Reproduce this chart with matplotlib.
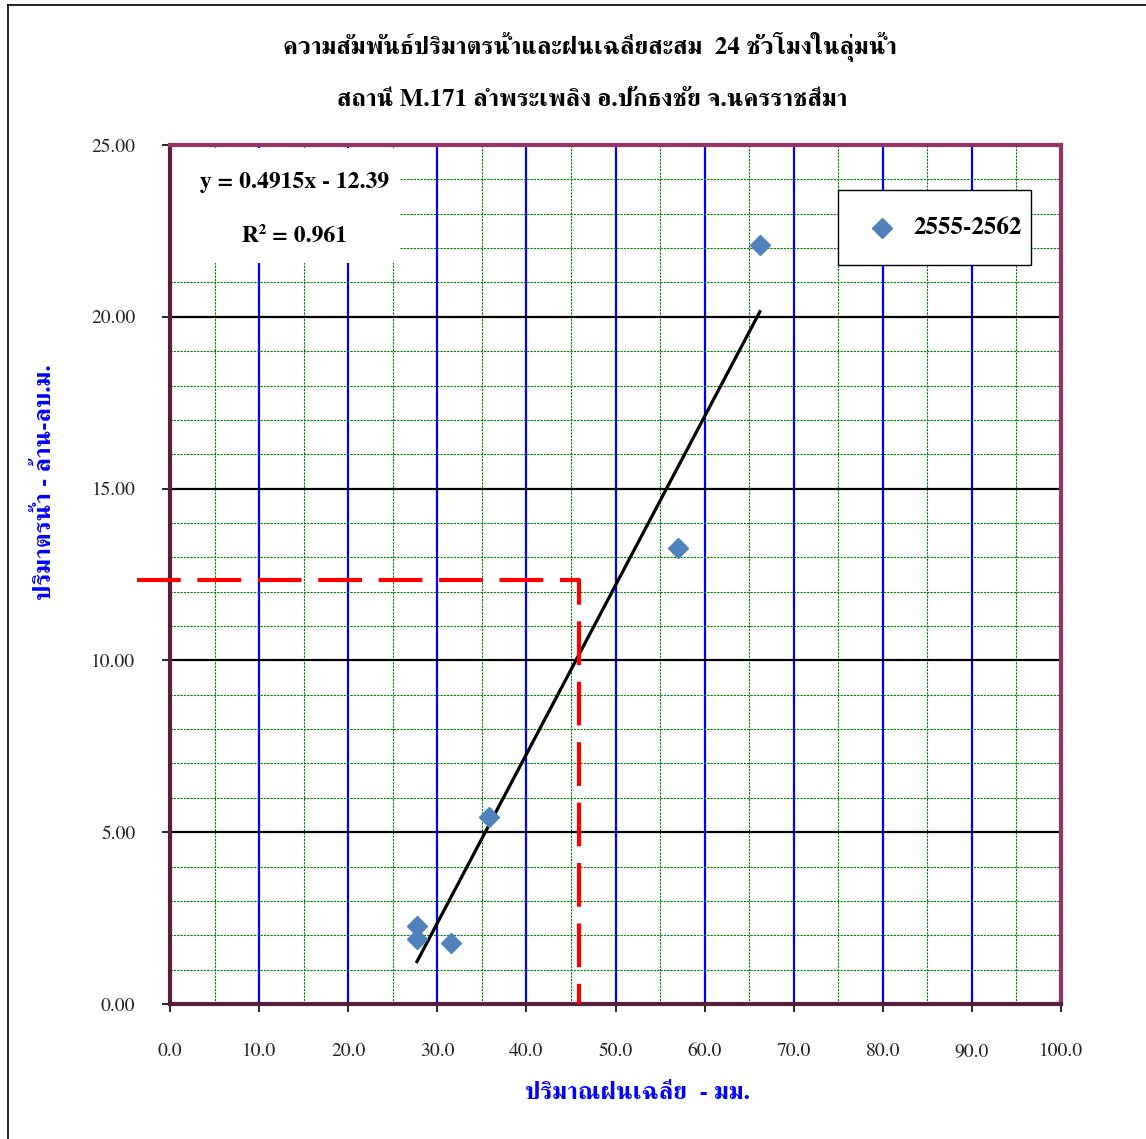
import matplotlib
matplotlib.use("Agg")
import numpy as np
import matplotlib.pyplot as plt
from matplotlib.patches import Rectangle
from matplotlib.lines import Line2D

plt.rcParams['font.family'] = ['FreeSerif', 'DejaVu Serif']

# rainfall (mm) vs runoff volume (million m3), 2555-2562
rain = [27.72, 27.72, 31.54, 35.80, 57.00, 66.20]
volume = [2.27, 1.89, 1.77, 5.44, 13.26, 22.09]
slope, intercept = 0.4915, -12.39
r2 = 0.961
# red reading line
read_x, read_y = 45.9, 12.33
read_x_start = -3.7

title1 = "ความสัมพันธ์ปริมาตรน้ำและฝนเฉลี่ยสะสม  24 ชั่วโมงในลุ่มน้ำ"
title2 = "สถานี M.171 ลำพระเพลิง อ.ปักธงชัย จ.นครราชสีมา"
xlabel = "ปริมาณฝนเฉลี่ย  - มม."
ylabel = "ปริมาตรน้ำ - ล้าน-ลบ.ม."
series_name = "2555-2562"

fig = plt.figure(figsize=(11.46, 11.39), dpi=100)
ax = fig.add_axes([170/1146, 1-1004/1139, 891/1146, 859/1139])

ax.set_xlim(0, 100)
ax.set_ylim(0, 25)
ax.set_xticks(np.arange(0, 101, 10))
ax.set_yticks(np.arange(0, 26, 5))
ax.set_xticks(np.arange(0, 101, 5), minor=True)
ax.set_yticks(np.arange(0, 26, 1), minor=True)
ax.set_xticklabels([f"{v:.1f}" for v in np.arange(0, 101, 10)])
ax.set_yticklabels([f"{v:.2f}" for v in np.arange(0, 26, 5)])
ax.tick_params(which='major', direction='out', length=6, width=1.2,
               labelsize=14, colors='black', labelcolor='#222222')
ax.tick_params(axis='x', which='major', pad=22)
ax.tick_params(axis='y', which='major', pad=19)
ax.tick_params(which='minor', length=0)

ax.set_axisbelow(True)
ax.grid(which='minor', color='#008000', linestyle=(0, (2, 1)), linewidth=0.8)
ax.xaxis.grid(True, which='major', color='#0000ff', linestyle='-', linewidth=1.6)
ax.yaxis.grid(True, which='major', color='black', linestyle='-', linewidth=1.6)

for s in ax.spines.values():
    s.set_color('#993366')
    s.set_linewidth(3)
ax.spines['left'].set_edgecolor('#5a1f3c')
ax.spines['bottom'].set_edgecolor('#5a1f3c')

# white box behind equation text
ax.add_patch(Rectangle((0.002, 0.863), 0.256, 0.134, transform=ax.transAxes,
                       facecolor='white', edgecolor='none', zorder=1))
ax.text(0.14, 0.956, f"y = {slope:.4f}x - {abs(intercept):.2f}", transform=ax.transAxes,
        ha='center', va='center', fontsize=17, fontweight='bold', zorder=2)
ax.text(0.14, 0.894, f"R² = {r2:.3f}", transform=ax.transAxes,
        ha='center', va='center', fontsize=17, fontweight='bold', zorder=2)

# trendline over the data range
xs = np.array([min(rain), max(rain)])
ax.plot(xs, slope * xs + intercept, color='black', linewidth=2.3, zorder=3)

ax.plot(rain, volume, linestyle='none', marker='D', markersize=10,
        color='#4f81bd', zorder=4)

# red dashed reading line
ax.plot([read_x_start, read_x, read_x], [read_y, read_y, 0], color='red',
        linewidth=3, linestyle=(0, (10.5, 4)), clip_on=False, zorder=5)

# legend box (drawn by hand to match the spacing)
lx0, lx1 = (838-170)/891, (1031-170)/891
ly0, ly1 = (1004-265)/859, (1004-190)/859
ax.add_patch(Rectangle((lx0, ly0), lx1 - lx0, ly1 - ly0, transform=ax.transAxes,
                       facecolor='white', edgecolor='black', linewidth=1.0, zorder=6))
ly_mid = (ly0 + ly1) / 2
ax.plot([(882-170)/891], [ly_mid], transform=ax.transAxes, marker='D', markersize=10,
        color='#4f81bd', linestyle='none', zorder=7)
ax.text((914-170)/891, ly_mid, series_name, transform=ax.transAxes, ha='left',
        va='center', fontsize=18, fontweight='bold', zorder=7)

fig.text(0.515, 1-47/1139, title1, ha='center', va='center', fontsize=18, fontweight='bold')
fig.text(0.517, 1-100/1139, title2, ha='center', va='center', fontsize=18, fontweight='bold')
fig.text(0.039, 1-482/1139, ylabel, ha='center', va='center', rotation=90,
         fontsize=18, fontweight='bold', color='#0000ff')
fig.text(0.556, 1-1093/1139, xlabel, ha='center', va='center',
         fontsize=18, fontweight='bold', color='#0000ff')

# outer frame lines (top and left)
fig.add_artist(Line2D([8/1146, 8/1146], [0, 1-5/1139], color='black', linewidth=1.2))
fig.add_artist(Line2D([8/1146, 1], [1-5/1139, 1-5/1139], color='black', linewidth=1.2))

fig.savefig("out.png", dpi=100)
